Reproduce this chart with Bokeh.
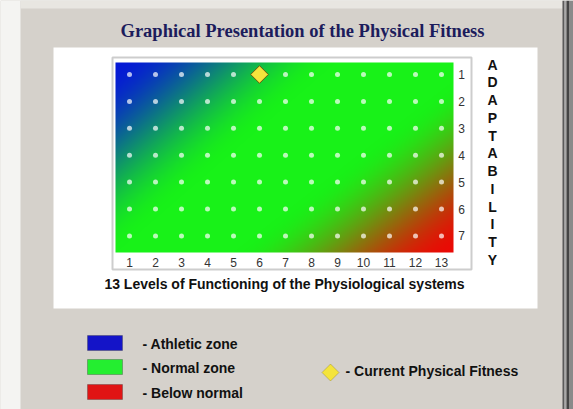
import numpy as np
from bokeh.plotting import figure
from bokeh.models import Range1d, BoxAnnotation, Label, PolyAnnotation
from bokeh.embed import file_html
from bokeh.resources import INLINE

# ---------------- data ----------------
title_text = "Graphical Presentation of the Physical Fitness"
levels = [1, 2, 3, 4, 5, 6, 7, 8, 9, 10, 11, 12, 13]
level_labels = ["1", "2", "3", "4", "5", "6", "7", "8", "9", "10", "11", "12", "13"]
adaptability_rows = [1, 2, 3, 4, 5, 6, 7]
row_labels = ["1", "2", "3", "4", "5", "6", "7"]
x_axis_title = "13 Levels of Functioning of the Physiological systems"
y_axis_letters = "ADAPTABILITY"
current_level = [6]
current_adapt = [1]
zone_names = ["- Athletic zone", "- Normal zone", "- Below normal"]
zone_colors = ["#1414c8", "#24ee30", "#e01414"]
marker_label = "- Current Physical Fitness"

# ---------------- layout ----------------
W, H = 573, 409
BG = "#d5d1cb"
SANS = "Liberation Sans"
PX, PY = 26.0, 26.9          # pixels per level / per row
X1, Y1 = 129, 74             # canvas pixel of level 1 / row 1

p = figure(width=W, height=H, output_backend="svg", toolbar_location=None,
           x_range=Range1d(1 - X1 / PX, 1 + (W - X1) / PX),
           y_range=Range1d(1 + (H - Y1) / PY, 1 - Y1 / PY),
           x_axis_location=None, y_axis_location=None,
           min_border=0, min_border_left=0, min_border_right=0,
           min_border_top=0, min_border_bottom=0)
p.grid.visible = False
p.outline_line_color = None
p.border_fill_color = BG
p.background_fill_color = BG


def dx(X):   # canvas pixel -> data x
    return 1 + (X - X1) / PX


def dy(Y):   # canvas pixel -> data y
    return 1 + (Y - Y1) / PY


def sy(Y):   # canvas pixel (from top) -> screen units (from bottom)
    return H - Y


def box(x0, x1, y0, y1, **kw):
    b = BoxAnnotation(left=x0, right=x1, top=sy(y0), bottom=sy(y1),
                      left_units="screen", right_units="screen",
                      top_units="screen", bottom_units="screen", **kw)
    p.add_layout(b)
    return b


# dialog decorations, white panel and frame
box(0, 20, 0, H, fill_color="#f4f4f2", fill_alpha=1, line_color=None, level="underlay")
box(20, 562, 0, 8, fill_color="#e8e6e1", fill_alpha=1, line_color=None, level="underlay")
for a, b_, c in [(562, 564, "#5a5a5a"), (564, 566, "#a8a8a8"), (566, 569, "#444444"),
                 (569, 573, "#8a8a8a")]:
    box(a, b_, 0, H, fill_color=c, fill_alpha=1, line_color=None, level="underlay")
box(53, 537, 47, 308, fill_color="white", fill_alpha=1, line_color=None, level="underlay")
box(112, 471, 57, 269, fill_alpha=0, line_color="#5a5a5a", line_width=2, level="underlay")

# ---------------- gradient background ----------------
GX0, GX1, GY0, GY1 = 115, 453, 62, 252
ny, nx = GY1 - GY0, GX1 - GX0
u = (np.arange(nx) + 0.5) / nx
v = (np.arange(ny) + 0.5) / ny
U, V = np.meshgrid(u, v)


def smooth(s):
    s = np.clip(s, 0, 1)
    return s * s * (3 - 2 * s)


wb = smooth(1 - (U / 0.65 + V / 1.0))
wr = smooth(1 - ((1 - U) / 0.65 + (1 - V) / 0.9))
wg = np.clip(1 - wb - wr, 0, 1)
blue = np.array([5, 25, 215])
green = np.array([24, 242, 24])
red = np.array([235, 10, 5])
rgb = (wb[..., None] * blue + wg[..., None] * green + wr[..., None] * red)
img = np.empty((ny, nx), dtype=np.uint32)
view = img.view(dtype=np.uint8).reshape((ny, nx, 4))
view[..., :3] = np.clip(rgb, 0, 255).astype(np.uint8)
view[..., 3] = 255
gr = p.image_rgba(image=[img], x=dx(GX0), y=dy(GY0),
                  dw=dx(GX1) - dx(GX0), dh=dy(GY1) - dy(GY0))
gr.level = "glyph"

# ---------------- dots & current point ----------------
gx, gy = np.meshgrid(levels, adaptability_rows)
p.scatter(x=gx.ravel(), y=gy.ravel(), size=5, fill_color="white", fill_alpha=0.7,
          line_color=None)
p.scatter(x=current_level, y=current_adapt, marker="square", angle=np.pi / 4, size=12.5,
          fill_color="#f4e43c", line_color="#6a5a10", line_width=1)

# ---------------- tick labels ----------------
p.text(x=levels, y=[dy(262)] * len(levels), text=level_labels,
       text_align="center", text_baseline="middle", text_font={"value": SANS},
       text_font_size="12px", text_color="#333333")
p.text(x=[dx(461)] * len(adaptability_rows), y=adaptability_rows, text=row_labels,
       text_align="center", text_baseline="middle", text_font={"value": SANS},
       text_font_size="12px", text_color="#333333")

# ---------------- texts ----------------
p.add_layout(Label(x=284, y=sy(283), x_units="screen", y_units="screen",
                   text=x_axis_title, text_align="center", text_baseline="middle",
                   text_font=SANS, text_font_style="bold", text_font_size="14px",
                   text_color="#111111"))
p.add_layout(Label(x=302, y=sy(30), x_units="screen", y_units="screen",
                   text=title_text, text_align="center", text_baseline="middle",
                   text_font="Liberation Serif", text_font_style="bold",
                   text_font_size="18.5px", text_color="#1c1c5c"))
p.add_layout(Label(x=492, y=sy(56), x_units="screen", y_units="screen",
                   text="\n".join(y_axis_letters), text_align="center",
                   text_baseline="top", text_line_height=1.11,
                   text_font=SANS, text_font_style="bold", text_font_size="14px",
                   text_color="#111111"))

# ---------------- legend ----------------
sw_top = [335, 359, 384]
for name, col, t in zip(zone_names, zone_colors, sw_top):
    box(87, 122, t, t + 15, fill_color=col, fill_alpha=1, line_color="#2a2a2a",
        line_width=1, level="overlay")
    p.add_layout(Label(x=142, y=sy(t + 8), x_units="screen", y_units="screen",
                       text=name, text_baseline="middle", text_font=SANS,
                       text_font_style="bold", text_font_size="14px",
                       text_color="#111111"))

cx, cy, r = 330, sy(372), 8.5
p.add_layout(PolyAnnotation(xs=[cx, cx + r, cx, cx - r], ys=[cy + r, cy, cy - r, cy],
                            xs_units="screen", ys_units="screen",
                            fill_color="#f4e43c", fill_alpha=1,
                            line_color="#6a5a10", line_width=1))
p.add_layout(Label(x=345, y=sy(370), x_units="screen", y_units="screen",
                   text=marker_label, text_baseline="middle", text_font=SANS,
                   text_font_style="bold", text_font_size="14px", text_color="#111111"))

open("out.html", "w").write(file_html(p, INLINE))
